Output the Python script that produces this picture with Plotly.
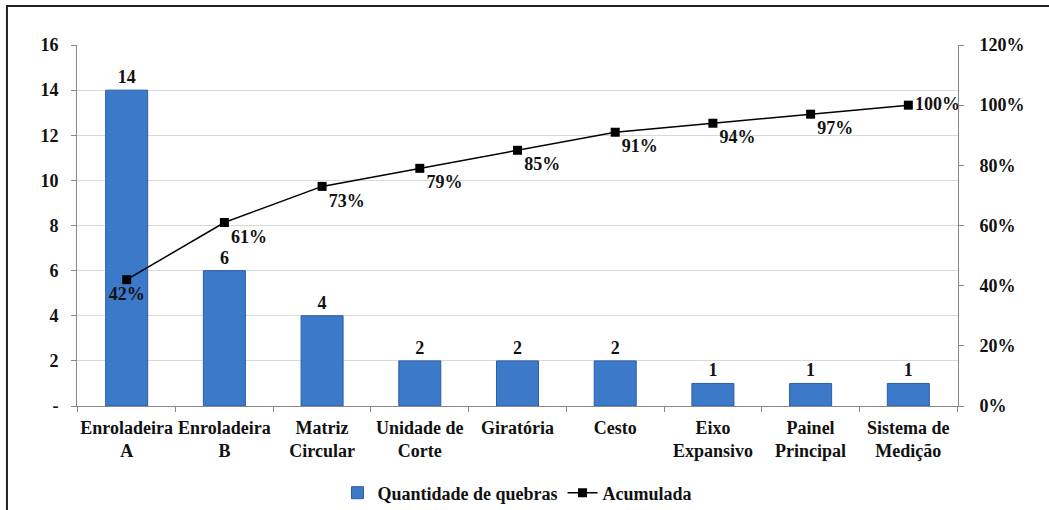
import plotly.graph_objects as go

categories = ["Enroladeira<br>A", "Enroladeira<br>B", "Matriz<br>Circular", "Unidade de<br>Corte",
              "Giratória", "Cesto", "Eixo<br>Expansivo", "Painel<br>Principal", "Sistema de<br>Medição"]
quebras = [14, 6, 4, 2, 2, 2, 1, 1, 1]
acumulada = [42, 61, 73, 79, 85, 91, 94, 97, 100]
left_ticks = [0, 2, 4, 6, 8, 10, 12, 14, 16]
left_tick_text = ["-", "2", "4", "6", "8", "10", "12", "14", "16"]
right_ticks = [0, 20, 40, 60, 80, 100, 120]
right_tick_text = ["0%", "20%", "40%", "60%", "80%", "100%", "120%"]

FONT = "Liberation Serif"
def f(size=18):
    return dict(family=FONT, size=size, color="#111", weight="bold")

line_text_pos = ["bottom center"] + ["bottom right"] * 7 + ["middle right"]

fig = go.Figure()
fig.add_trace(go.Bar(
    x=categories, y=quebras, name="Quantidade de quebras",
    marker=dict(color="#3C79C8", line=dict(color="#2A5EA8", width=1)),
    width=0.43,
    text=[str(v) for v in quebras], textposition="outside",
    textfont=f(18),
    cliponaxis=False,
))
fig.add_trace(go.Scatter(
    x=categories, y=acumulada, name="Acumulada", yaxis="y2",
    mode="lines+markers+text",
    line=dict(color="black", width=1.5),
    marker=dict(symbol="square", size=9, color="black"),
    text=[f"{v}%" for v in acumulada], textposition=line_text_pos,
    textfont=f(18),
    cliponaxis=False,
))

fig.update_layout(
    width=1049, height=510,
    margin=dict(l=77, r=91, t=45, b=104, autoexpand=False),
    paper_bgcolor="white", plot_bgcolor="white",
    font=f(18),
    bargap=0.57,
    showlegend=True,
    legend=dict(orientation="h", x=0.5, xanchor="center", y=-0.241, yanchor="middle",
                font=f(18), itemwidth=30, tracegroupgap=0),
    xaxis=dict(
        type="category", showline=True, linecolor="#888", linewidth=1,
        ticks="outside", tickson="boundaries", ticklen=5, tickcolor="#888",
        tickfont=f(18), ticklabelstandoff=5, automargin=False, tickangle=0,
        showgrid=False,
    ),
    yaxis=dict(
        range=[0, 16], tickvals=left_ticks, ticktext=left_tick_text,
        showline=True, linecolor="#888", linewidth=1,
        ticks="outside", ticklen=5, tickcolor="#888",
        showgrid=True, gridcolor="#D9D9D9", gridwidth=1, zeroline=False,
        tickfont=f(18), ticklabelstandoff=9, automargin=False,
    ),
    yaxis2=dict(
        range=[0, 120], tickvals=right_ticks, ticktext=right_tick_text,
        overlaying="y", side="right",
        showline=True, linecolor="#888", linewidth=1,
        ticks="outside", ticklen=5, tickcolor="#888",
        showgrid=False, zeroline=False,
        tickfont=f(18), ticklabelstandoff=12, automargin=False,
    ),
    shapes=[dict(type="rect", xref="paper", yref="paper",
                 x0=-0.0795, x1=1.2, y0=-0.5, y1=1.108,
                 line=dict(color="#222", width=2), fillcolor="rgba(0,0,0,0)", layer="below")],
)

fig.write_html("out.html")
